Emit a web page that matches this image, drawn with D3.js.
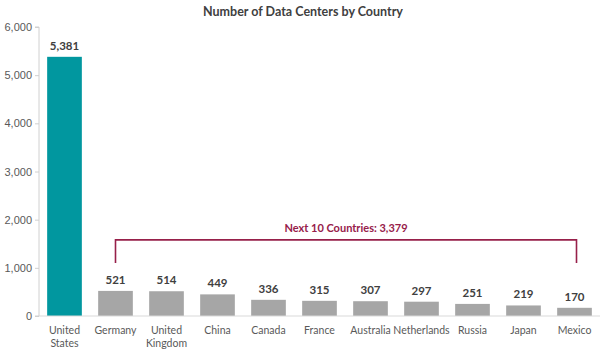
<!DOCTYPE html>
<html>
<head>
<meta charset="utf-8">
<script src="https://cdn.jsdelivr.net/npm/d3@7/dist/d3.min.js"></script>
<style>
  body { margin: 0; background: #fff; }
  svg { font-family: Lato, "Open Sans", sans-serif; }
  .axis text { fill: #595959; font-size: 11px; }
  .axis path, .axis line { stroke: #d0d0d0; }
</style>
</head>
<body>
<div id="chart"></div>
<script>
// Number of Data Centers by Country
const countries = ['United States', 'Germany', 'United Kingdom', 'China', 'Canada', 'France',
    'Australia', 'Netherlands', 'Russia', 'Japan', 'Mexico'];
const centers = [5381, 521, 514, 449, 336, 315, 307, 297, 251, 219, 170];
const yTicks = [0, 1000, 2000, 3000, 4000, 5000, 6000];
const bracketLabel = 'Next 10 Countries: 3,379';

const W = 603, H = 350;
const margin = { top: 27, right: 3, bottom: 34, left: 39 };
const width = W - margin.left - margin.right;
const height = H - margin.top - margin.bottom;

const svg = d3.select('#chart').append('svg')
    .attr('width', W)
    .attr('height', H);

const g = svg.append('g')
    .attr('transform', `translate(${margin.left},${margin.top})`);

// Scales
const xScale = d3.scaleBand()
    .domain(countries)
    .range([0, width])
    .paddingInner(0.32)
    .paddingOuter(0.16);

const yScale = d3.scaleLinear()
    .domain([0, 6000])
    .range([height, 0]);

// Title
svg.append('text')
    .attr('x', 303)
    .attr('y', 16)
    .attr('text-anchor', 'middle')
    .style('font-size', '12.5px')
    .style('font-weight', '700')
    .style('fill', '#404040')
    .text('Number of Data Centers by Country');

// Y axis
const yAxis = g.append('g')
    .attr('class', 'axis')
    .call(d3.axisLeft(yScale).tickValues(yTicks).tickSize(4).tickFormat(d3.format(',')));
yAxis.select('.domain').attr('d', `M-4,0H0V${height}H-4`);

// Bars
g.selectAll('.bar')
    .data(countries)
    .enter()
    .append('rect')
    .attr('class', 'bar')
    .attr('x', d => xScale(d))
    .attr('width', xScale.bandwidth())
    .attr('y', (d, i) => yScale(centers[i]))
    .attr('height', (d, i) => height - yScale(centers[i]))
    .attr('fill', (d, i) => i === 0 ? '#01979f' : '#a6a6a6');

// Baseline
g.append('line')
    .attr('x1', 0)
    .attr('x2', width)
    .attr('y1', height)
    .attr('y2', height)
    .attr('stroke', '#d9d9d9')
    .attr('stroke-width', 1);

// Value labels
g.selectAll('.value-label')
    .data(countries)
    .enter()
    .append('text')
    .attr('class', 'value-label')
    .attr('x', d => xScale(d) + xScale.bandwidth() / 2)
    .attr('y', (d, i) => yScale(centers[i]) - 7)
    .attr('text-anchor', 'middle')
    .style('font-size', '11.5px')
    .style('font-weight', '700')
    .style('fill', '#404040')
    .text((d, i) => d3.format(',')(centers[i]));

// Category labels (wrapped on spaces for two-word names)
const cat = g.append('g')
    .attr('transform', `translate(0,${height})`);

countries.forEach(name => {
    const words = name.split(' ');
    const t = cat.append('text')
        .attr('x', xScale(name) + xScale.bandwidth() / 2)
        .attr('y', 18)
        .attr('text-anchor', 'middle')
        .style('font-size', '10.5px')
        .style('fill', '#595959');
    words.forEach((w, i) => {
        t.append('tspan')
            .attr('x', xScale(name) + xScale.bandwidth() / 2)
            .attr('dy', i === 0 ? 0 : 13)
            .text(w);
    });
});

// Bracket over the next 10 countries
const first = countries[1], last = countries[countries.length - 1];
const bx1 = xScale(first) + xScale.bandwidth() / 2;
const bx2 = xScale(last) + xScale.bandwidth() / 2 + 2;
const by = yScale(1580);

g.append('path')
    .attr('d', `M${bx1},${by + 23}V${by}H${bx2}V${by + 23}`)
    .attr('fill', 'none')
    .attr('stroke', '#97204a')
    .attr('stroke-width', 1.6);

g.append('text')
    .attr('x', (bx1 + bx2) / 2)
    .attr('y', by - 8)
    .attr('text-anchor', 'middle')
    .style('font-size', '11px')
    .style('font-weight', '700')
    .style('fill', '#97204a')
    .text(bracketLabel);
</script>
</body>
</html>
